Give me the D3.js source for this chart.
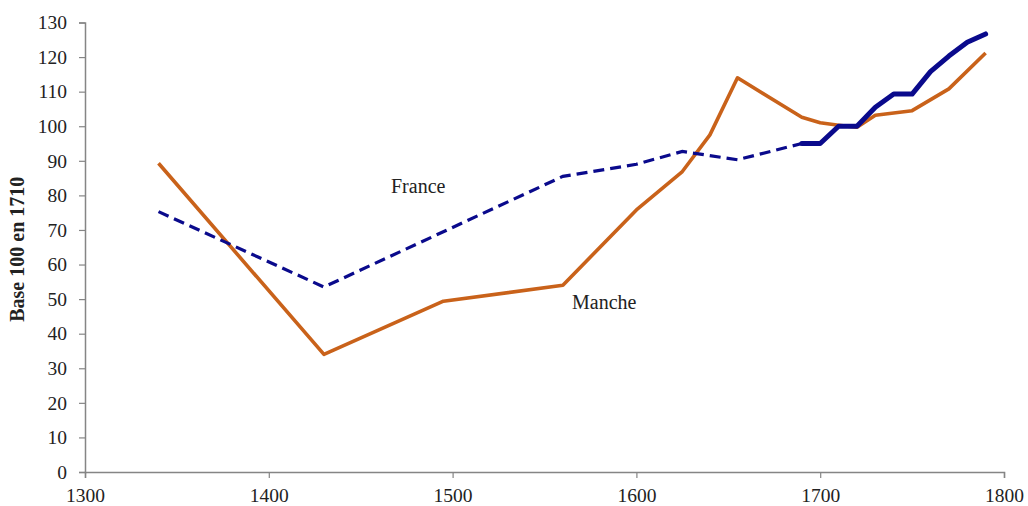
<!DOCTYPE html>
<html>
<head>
<meta charset="utf-8">
<script src="https://cdn.jsdelivr.net/npm/d3@7"></script>
<style>
  body { margin: 0; background: #fff; }
  #chart text { font-family: "Liberation Serif", "Times New Roman", serif; fill: #222; }
</style>
</head>
<body>
<div id="chart"></div>
<script>
// Data
const mancheYears = [1340, 1430, 1495, 1560, 1600, 1625, 1640, 1655, 1690, 1700, 1710, 1720, 1730, 1750, 1770, 1790];
const mancheValues = [89.3, 34, 49.4, 54, 75.8, 86.9, 97.5, 114, 102.6, 101, 100.3, 99.7, 103.2, 104.5, 110.8, 121.2];

// France before 1690: dashed
const franceOldYears = [1340, 1430, 1560, 1600, 1625, 1655, 1690];
const franceOldValues = [75.3, 53.5, 85.5, 89, 92.7, 90.3, 95];

// France from 1690: solid
const franceNewYears = [1690, 1700, 1710, 1720, 1730, 1740, 1750, 1760, 1770, 1780, 1790];
const franceNewValues = [95, 95, 100, 100, 105.5, 109.3, 109.3, 115.8, 120.3, 124.3, 126.7];

const xTicks = [1300, 1400, 1500, 1600, 1700, 1800];
const yTicks = [0, 10, 20, 30, 40, 50, 60, 70, 80, 90, 100, 110, 120, 130];

// Set up dimensions
const width = 1028, height = 506;
const margin = {top: 22.5, right: 24, bottom: 34, left: 85};

const svg = d3.select("#chart")
    .append("svg")
    .attr("width", width)
    .attr("height", height);

const x = d3.scaleLinear()
    .domain([1300, 1800])
    .range([margin.left, width - margin.right]);

const y = d3.scaleLinear()
    .domain([0, 130])
    .range([height - margin.bottom, margin.top]);

// Axes
const xAxis = svg.append("g")
    .attr("transform", `translate(0,${y(0)})`)
    .call(d3.axisBottom(x).tickValues(xTicks).tickFormat(d3.format("d")).tickSize(6).tickPadding(10));

const yAxis = svg.append("g")
    .attr("transform", `translate(${x(1300)},0)`)
    .call(d3.axisLeft(y).tickValues(yTicks).tickSize(6).tickPadding(12));

[xAxis, yAxis].forEach(a => {
    a.select(".domain").attr("stroke", "#858585").attr("stroke-width", 1.5);
    a.selectAll(".tick line").attr("stroke", "#858585").attr("stroke-width", 1.2);
    a.selectAll(".tick text").style("font-size", "19.5px").attr("fill", "#222");
});

// Lines
const line = d3.line()
    .x(d => x(d[0]))
    .y(d => y(d[1]));

svg.append("path")
    .datum(mancheYears.map((yr, i) => [yr, mancheValues[i]]))
    .attr("fill", "none")
    .attr("stroke", "#C9621A")
    .attr("stroke-width", 3.6)
    .attr("stroke-linejoin", "round")
    .attr("d", line);

svg.append("path")
    .datum(franceOldYears.map((yr, i) => [yr, franceOldValues[i]]))
    .attr("fill", "none")
    .attr("stroke", "#0A0A8C")
    .attr("stroke-width", 3.2)
    .attr("stroke-dasharray", "11,6")
    .attr("d", line);

svg.append("path")
    .datum(franceNewYears.map((yr, i) => [yr, franceNewValues[i]]))
    .attr("fill", "none")
    .attr("stroke", "#0A0A8C")
    .attr("stroke-width", 5)
    .attr("stroke-linejoin", "round")
    .attr("stroke-linecap", "round")
    .attr("d", line);

// Labels
svg.append("text")
    .attr("x", 391)
    .attr("y", 193)
    .style("font-size", "20px")
    .text("France");

svg.append("text")
    .attr("x", 572)
    .attr("y", 309)
    .style("font-size", "20px")
    .text("Manche");

svg.append("text")
    .attr("transform", `translate(24,${(y(0) + y(130)) / 2 + 2}) rotate(-90)`)
    .attr("text-anchor", "middle")
    .style("font-size", "20px")
    .style("font-weight", "bold")
    .text("Base 100 en 1710");
</script>
</body>
</html>
